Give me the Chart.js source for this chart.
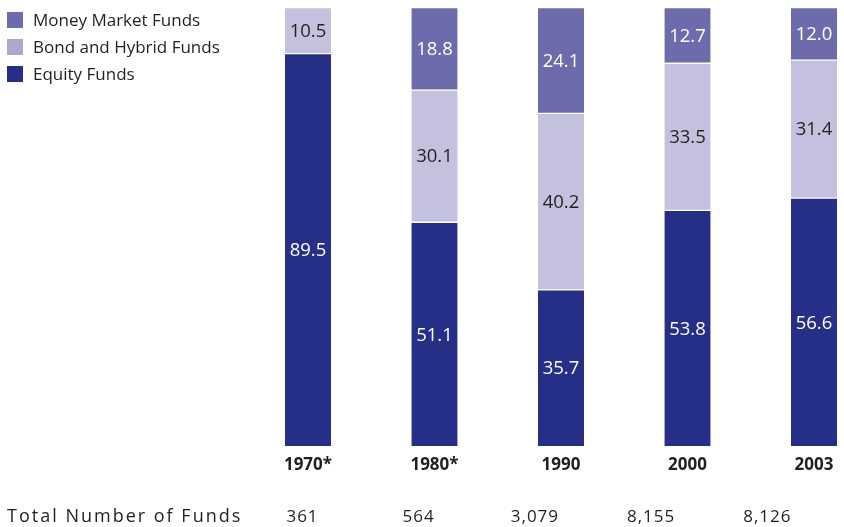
<!DOCTYPE html>
<html>
<head>
<meta charset="utf-8">
<script src="https://cdn.jsdelivr.net/npm/chart.js@4.4.1/dist/chart.umd.min.js"></script>
<style>
html,body{margin:0;padding:0;background:#fff;}
#wrap{width:844px;height:527px;position:relative;}
</style>
</head>
<body>
<div id="wrap"><canvas id="c" width="844" height="527"></canvas></div>
<script>
const categories = ['1970*', '1980*', '1990', '2000', '2003'];
const equityFunds = [89.5, 51.1, 35.7, 53.8, 56.6];
const bondHybridFunds = [10.5, 30.1, 40.2, 33.5, 31.4];
const moneyMarketFunds = [null, 18.8, 24.1, 12.7, 12.0];
const totalFunds = ['361', '564', '3,079', '8,155', '8,126'];
const totalLabel = 'Total Number of Funds';

const FONT = "'Open Sans', 'Noto Sans', sans-serif";
const TEXT = '#231f20';

const legendPlugin = {
  id: 'customLegendAndTotals',
  afterDraw(chart) {
    const ctx = chart.ctx;
    ctx.save();
    const items = [
      {label: 'Money Market Funds', color: '#6d6bab'},
      {label: 'Bond and Hybrid Funds', color: '#aba8d2'},
      {label: 'Equity Funds', color: '#262f87'}
    ];
    ctx.font = '17px ' + FONT;
    ctx.textBaseline = 'middle';
    ctx.textAlign = 'left';
    items.forEach((it, i) => {
      const y = 12 + i * 27;
      ctx.fillStyle = it.color;
      ctx.fillRect(7, y, 16, 16);
      ctx.fillStyle = TEXT;
      ctx.fillText(it.label, 33, y + 9);
    });
    // totals row
    ctx.fillStyle = TEXT;
    ctx.font = '18px ' + FONT;
    ctx.letterSpacing = '2px';
    ctx.fillText(totalLabel, 7, 517);
    ctx.font = '17px ' + FONT;
    ctx.letterSpacing = '1px';
    ctx.textAlign = 'center';
    const xs = chart.scales.x;
    totalFunds.forEach((t, i) => {
      const x = xs.getPixelForValue(i) - 5.5 - i * 10.3;
      ctx.fillText(t, x, 517);
    });
    ctx.restore();
  }
};

const valueLabels = {
  id: 'valueLabels',
  afterDatasetsDraw(chart) {
    const ctx = chart.ctx;
    ctx.save();
    ctx.font = '18.5px ' + FONT;
    ctx.textAlign = 'center';
    ctx.textBaseline = 'middle';
    chart.data.datasets.forEach((ds, di) => {
      const meta = chart.getDatasetMeta(di);
      meta.data.forEach((bar, i) => {
        const v = ds.data[i];
        if (v === null || v === undefined) return;
        const p = bar.getProps(['x', 'y', 'base'], true);
        ctx.fillStyle = ds.labelColor;
        ctx.fillText(v.toFixed(1), p.x, (p.y + p.base) / 2 + 1);
      });
    });
    ctx.restore();
  }
};

const segBorder = {top: 1, bottom: 1, left: 0, right: 0};

new Chart(document.getElementById('c'), {
  type: 'bar',
  data: {
    labels: categories,
    datasets: [
      {label: 'Equity Funds', data: equityFunds, backgroundColor: '#262f87', labelColor: '#ffffff',
       borderColor: '#ffffff', borderWidth: segBorder, borderSkipped: false, barThickness: 46, clip: false},
      {label: 'Bond and Hybrid Funds', data: bondHybridFunds, backgroundColor: '#c4c1de', labelColor: TEXT,
       borderColor: '#ffffff', borderWidth: segBorder, borderSkipped: false, barThickness: 46, clip: false},
      {label: 'Money Market Funds', data: moneyMarketFunds, backgroundColor: '#6d6bab', labelColor: '#ffffff',
       borderColor: '#ffffff', borderWidth: segBorder, borderSkipped: false, barThickness: 46, clip: false}
    ]
  },
  options: {
    responsive: false,
    animation: false,
    layout: {padding: {left: 308, right: 30, top: 7.5, bottom: 44}},
    plugins: {legend: {display: false}, tooltip: {enabled: false}},
    scales: {
      x: {
        stacked: true,
        offset: false,
        grid: {display: false, drawTicks: false},
        border: {display: false},
        ticks: {color: TEXT, font: {family: FONT, size: 17, weight: 'bold'}, padding: 8, maxRotation: 0, autoSkip: false}
      },
      y: {
        stacked: true, min: 0, max: 100, display: false
      }
    }
  },
  plugins: [valueLabels, legendPlugin]
});
</script>
</body>
</html>
